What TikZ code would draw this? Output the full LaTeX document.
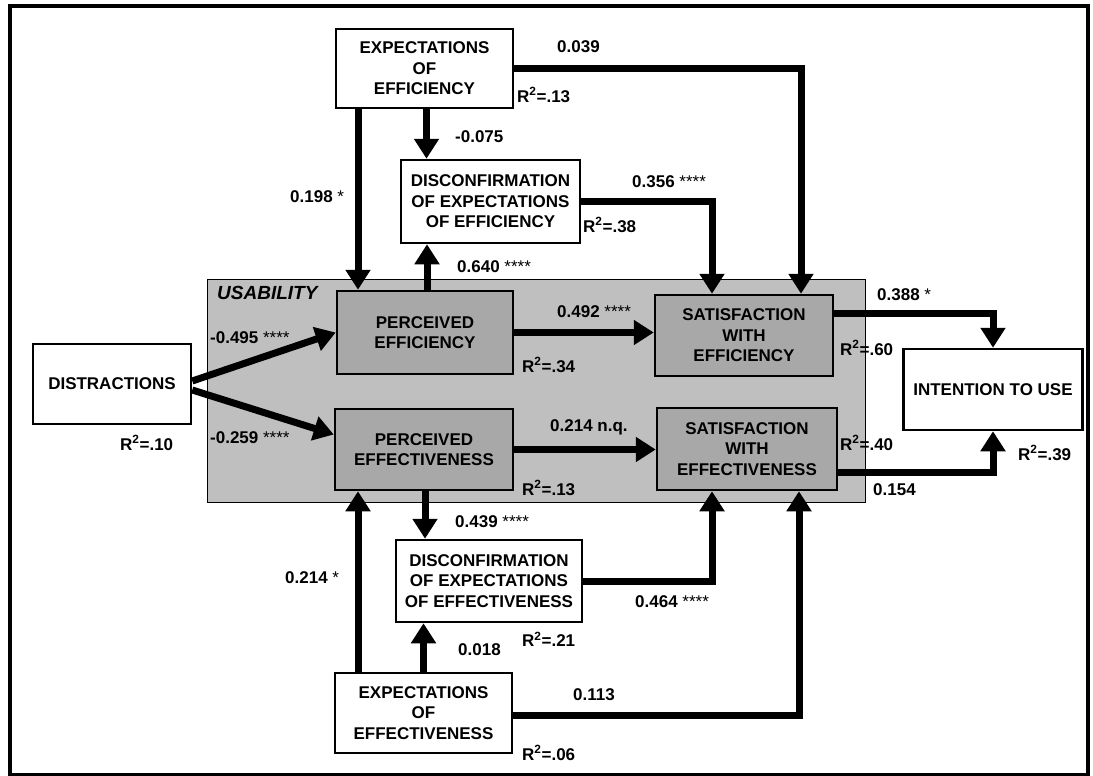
\documentclass[tikz,border=0pt]{standalone}
\usepackage{fontspec}
\setmainfont{Liberation Sans}
\usetikzlibrary{arrows.meta}

\newcommand{\sigstars}{\textmd{****}}
\newcommand{\rsq}[1]{R\textsuperscript{2}=.#1}

\begin{document}
\begin{tikzpicture}[x=1pt,y=-1pt,
    box/.style={draw,line width=2.5pt,fill=white,align=center,inner sep=0pt,
        font=\fontsize{17}{20.5}\selectfont\bfseries},
    greybox/.style={box,fill=black!34},
    arr/.style={line width=7pt,-{Triangle[width=24pt,length=20pt]}},
    lab/.style={anchor=west,inner sep=0pt,font=\fontsize{17}{20}\selectfont\bfseries}]
    \useasboundingbox (0,0) rectangle (1093,776);
    \draw[line width=4pt] (10,6) rectangle (1088,775);
    \draw[line width=1pt,fill=black!25] (207,279) rectangle (865,502);
    \node[lab,font=\fontsize{19}{20}\selectfont\bfseries\itshape] (usa) at (217,293) {USABILITY};

    \node[box,minimum width=177pt,minimum height=79pt] (eoe) at (424.5,68.5) {EXPECTATIONS\\OF\\EFFICIENCY};
    \node[box,minimum width=179pt,minimum height=83pt] (dcf) at (490.5,201.5) {DISCONFIRMATION\\OF EXPECTATIONS\\OF EFFICIENCY};
    \node[box,minimum width=158pt,minimum height=80pt] (dist) at (112,384) {DISTRACTIONS};
    \node[greybox,minimum width=176pt,minimum height=83pt] (pe) at (425,332.5) {PERCEIVED\\EFFICIENCY};
    \node[greybox,minimum width=178pt,minimum height=81pt] (pef) at (424,449.5) {PERCEIVED\\EFFECTIVENESS};
    \node[greybox,minimum width=178pt,minimum height=81pt] (sae) at (744,335.5) {SATISFACTION\\WITH\\EFFICIENCY};
    \node[greybox,minimum width=180pt,minimum height=82pt] (saf) at (747,449) {SATISFACTION\\WITH\\EFFECTIVENESS};
    \node[box,minimum width=179pt,minimum height=81pt] (itu) at (993,389.5) {INTENTION TO USE};
    \node[box,minimum width=186pt,minimum height=82pt] (dcfe) at (489,581) {DISCONFIRMATION\\OF EXPECTATIONS\\OF EFFECTIVENESS};
    \node[box,minimum width=177pt,minimum height=80pt] (eofe) at (423.5,713) {EXPECTATIONS\\OF\\EFFECTIVENESS};

    \draw[arr] ([xshift=-66.5pt]eoe.south) -- ([xshift=-67pt]pe.north);
    \draw[arr] ([xshift=2pt]eoe.south) -- ([xshift=-64pt]dcf.north);
    \draw[arr] ([xshift=2pt]pe.north) -- ([xshift=-63.5pt]dcf.south);
    \draw[arr] (eoe.east) -| ([xshift=57pt]sae.north);
    \draw[arr] (dcf.east) -| ([xshift=-32pt]sae.north);
    \draw[arr] ([yshift=3pt]dist.east) -- (pe.west);
    \draw[arr] ([yshift=-6pt]dist.east) -- ([yshift=15pt]pef.west);
    \draw[arr] (pe.east) -- (pe.east -| sae.west);
    \draw[arr] (pef.east) -- (pef.east -| saf.west);
    \draw[arr] ([yshift=22pt]sae.east) -| (itu.north);
    \draw[arr] ([yshift=-23pt]saf.east) -| (itu.south);
    \draw[arr] ([xshift=1pt]pef.south) -- ([xshift=-64pt]dcfe.north);
    \draw[arr] (eofe.north) -- (eofe.north |- dcfe.south);
    \draw[arr] ([xshift=-65.5pt]eofe.north) -- ([xshift=-66pt]pef.south);
    \draw[arr] (dcfe.east) -| ([xshift=-35pt]saf.south);
    \draw[arr] ([yshift=-2pt]eofe.east) -| ([xshift=52pt]saf.south);

    \node[lab] (l1) at (290,197) {0.198 \textmd{*}};
    \node[lab] (l2) at (455,137) {-0.075};
    \node[lab] (l3) at (557,47) {0.039};
    \node[lab] (r1) at (517,95) {\rsq{13}};
    \node[lab] (r2) at (583,225) {\rsq{38}};
    \node[lab] (l4) at (632,182) {0.356 \sigstars};
    \node[lab] (l5) at (457,267) {0.640 \sigstars};
    \node[lab] (l6) at (210,338) {-0.495 \sigstars};
    \node[lab] (l7) at (210,438) {-0.259 \sigstars};
    \node[lab] (r3) at (120,443) {\rsq{10}};
    \node[lab] (l8) at (557,312) {0.492 \sigstars};
    \node[lab] (r4) at (522,365) {\rsq{34}};
    \node[lab] (l9) at (550,427) {0.214 n.q.};
    \node[lab] (r5) at (522,488) {\rsq{13}};
    \node[lab] (r6) at (840,348) {\rsq{60}};
    \node[lab] (r7) at (840,443) {\rsq{40}};
    \node[lab] (l10) at (877,295) {0.388 \textmd{*}};
    \node[lab] (l11) at (873,490) {0.154};
    \node[lab] (r8) at (1018,453) {\rsq{39}};
    \node[lab] (l12) at (455,522) {0.439 \sigstars};
    \node[lab] (l13) at (285,578) {0.214 \textmd{*}};
    \node[lab] (l14) at (635,602) {0.464 \sigstars};
    \node[lab] (r9) at (522,639) {\rsq{21}};
    \node[lab] (l15) at (458,650) {0.018};
    \node[lab] (l16) at (573,695) {0.113};
    \node[lab] (r10) at (522,753) {\rsq{06}};
\end{tikzpicture}
\end{document}
